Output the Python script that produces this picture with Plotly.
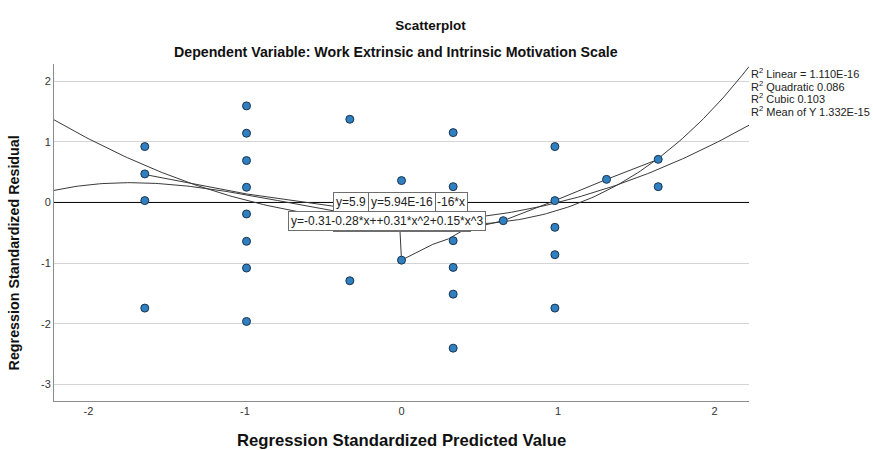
import numpy as np
import plotly.graph_objects as go

pred = [-1.64, -1.64, -1.64, -1.64,
        -0.99, -0.99, -0.99, -0.99, -0.99, -0.99, -0.99, -0.99,
        -0.33, -0.33,
        0.0, 0.0,
        0.33, 0.33, 0.33, 0.33, 0.33, 0.33,
        0.65,
        0.98, 0.98, 0.98, 0.98, 0.98,
        1.31,
        1.64, 1.64]
resid = [0.92, 0.47, 0.03, -1.74,
         1.59, 1.14, 0.69, 0.25, -0.19, -0.64, -1.08, -1.96,
         1.37, -1.29,
         0.36, -0.95,
         1.15, 0.26, -0.63, -1.07, -1.51, -2.40,
         -0.30,
         0.92, 0.03, -0.41, -0.86, -1.74,
         0.38,
         0.71, 0.26]

# fit coefficients (constant, x, x^2, x^3)
linear_coef = [5.94e-16, -1.11e-16]
quad_coef = [-0.31, -0.02, 0.33]
cubic_coef = [-0.31, -0.28, 0.31, 0.15]

# smoothed line through the points
smooth_x = [-1.64, -0.99, -0.33, -0.01, 0.0, 0.2, 0.3, 0.4, 0.65, 0.98, 1.31, 1.64]
smooth_y = [0.46, 0.14, -0.1, -0.45, -0.95, -0.69, -0.6, -0.45, -0.3, 0.03, 0.38, 0.71]

r2_labels = ["R<sup>2</sup> Linear = 1.110E-16", "R<sup>2</sup> Quadratic 0.086",
             "R<sup>2</sup> Cubic 0.103", "R<sup>2</sup> Mean of Y 1.332E-15"]

x_ticks = [-2, -1, 0, 1, 2]
x_ticktext = ["-2", "-1", "0", "1", "2"]
y_ticks = [-3, -2, -1, 0, 1, 2]
y_ticktext = ["-3", "-2", "-1", "0", "1", "2"]

x_range = [-2.22, 2.22]
y_range = [-3.27, 2.28]

FONT = "Liberation Sans, Arial, sans-serif"
LINE = "#3a3a3a"

fig = go.Figure()

xs = np.linspace(x_range[0], x_range[1], 200)


def poly(coef, x):
    return sum(c * x ** i for i, c in enumerate(coef))


fig.add_trace(go.Scatter(x=xs, y=poly(linear_coef, xs), mode="lines",
                         line=dict(color="black", width=1), hoverinfo="skip"))
fig.add_trace(go.Scatter(x=xs, y=poly(quad_coef, xs), mode="lines",
                         line=dict(color=LINE, width=1), hoverinfo="skip"))
fig.add_trace(go.Scatter(x=xs, y=poly(cubic_coef, xs), mode="lines",
                         line=dict(color=LINE, width=1), hoverinfo="skip"))
fig.add_trace(go.Scatter(x=smooth_x, y=smooth_y, mode="lines",
                         line=dict(color=LINE, width=1), hoverinfo="skip"))

fig.add_trace(go.Scatter(
    x=pred, y=resid, mode="markers",
    marker=dict(size=8, color="#2f7fc1", line=dict(color="#1b3550", width=1)),
    hovertemplate="Predicted: %{x}<br>Residual: %{y}<extra></extra>"
))

box = dict(bgcolor="white", bordercolor="#6e6e6e", borderwidth=1, borderpad=2,
           font=dict(family=FONT, size=12, color="#222"), showarrow=False,
           xref="x", yref="y", yanchor="middle")

# equation labels (overlapping, as in the original)
fig.add_annotation(text="y=-0.31-0.02*x+0.33*x^2", x=0.0, y=-0.32, xanchor="center", **box)
fig.add_annotation(text="y=-0.31-0.28*x++0.31*x^2+0.15*x^3", x=-0.728, y=-0.30, xanchor="left", **box)
fig.add_annotation(text="y=5.9", x=-0.435, y=0.0, xanchor="left", **box)
fig.add_annotation(text="-16*x", x=0.21, y=0.0, xanchor="left", **box)
fig.add_annotation(text="y=5.94E-16", x=-0.217, y=0.0, xanchor="left", **box)

for i, t in enumerate(r2_labels):
    fig.add_annotation(text=t, xref="paper", yref="paper", x=1.0, y=0.973 - i * 0.0375,
                       xanchor="left", yanchor="middle", showarrow=False,
                       font=dict(family=FONT, size=11, color="#222"))

fig.add_annotation(text="<b>Dependent Variable: Work Extrinsic and Intrinsic Motivation Scale</b>",
                   xref="paper", yref="paper", x=0.492, y=1.036, yanchor="middle", showarrow=False,
                   font=dict(family=FONT, size=14.2, color="#111"))
fig.add_annotation(text="<b>Regression Standardized Predicted Value</b>",
                   xref="paper", yref="paper", x=0.5, y=-0.116, yanchor="middle", showarrow=False,
                   font=dict(family=FONT, size=16.7, color="#111"))
fig.add_annotation(text="<b>Regression Standardized Residual</b>", textangle=-90,
                   xref="paper", yref="paper", x=-0.058, y=0.44, xanchor="center", yanchor="middle",
                   showarrow=False, font=dict(family=FONT, size=14.3, color="#111"))

fig.update_layout(
    title=dict(text="<b>Scatterplot</b>", x=0.493, xanchor="center", y=1 - 25 / 450, yref="container",
               yanchor="middle", font=dict(family=FONT, size=13.5, color="#111")),
    width=873, height=450,
    margin=dict(l=54, r=124, t=64, b=49),
    plot_bgcolor="white", paper_bgcolor="white",
    showlegend=False,
    font=dict(family=FONT, size=11, color="#333"),
)
fig.update_xaxes(range=x_range, tickvals=x_ticks, ticktext=x_ticktext, showgrid=False, zeroline=False,
                 showline=True, linecolor="#8c8c8c", linewidth=1, ticks="", ticklen=0)
fig.update_yaxes(range=y_range, tickvals=y_ticks, ticktext=y_ticktext, showgrid=True, gridcolor="#d4d4d4",
                 gridwidth=1, zeroline=False, showline=True, linecolor="#8c8c8c", linewidth=1,
                 ticks="", ticklen=0)

fig.write_html("out.html", config={"displayModeBar": False},
               post_script="document.body.style.margin='0';")
